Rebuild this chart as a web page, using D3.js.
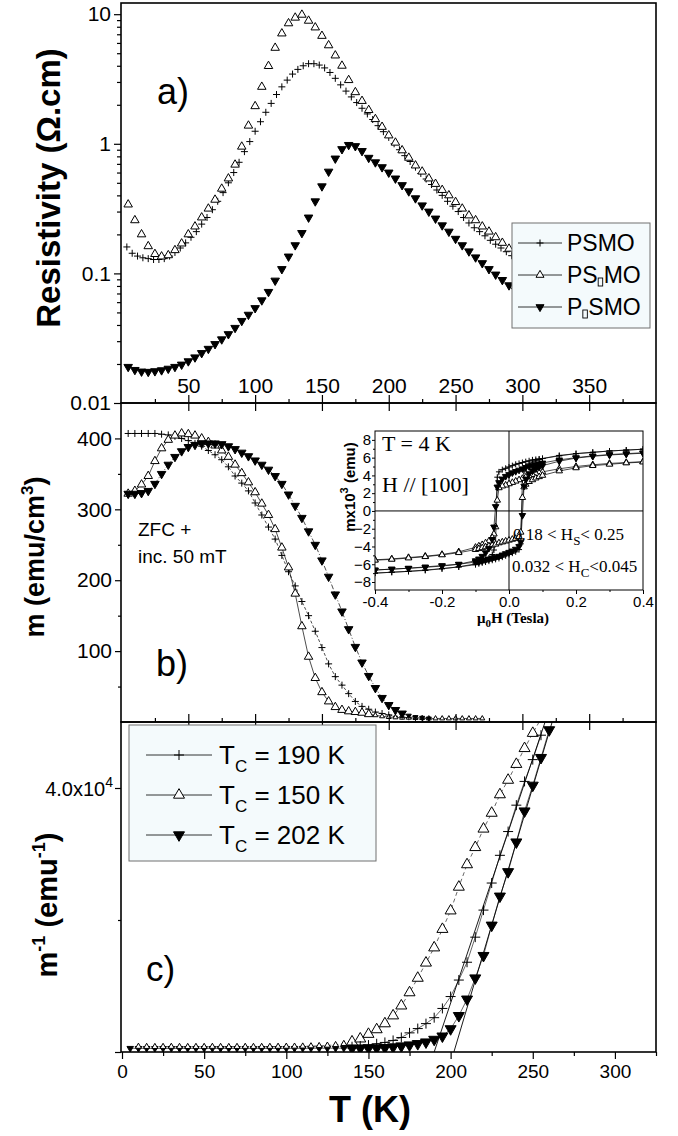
<!DOCTYPE html>
<html>
<head>
<meta charset="utf-8">
<script src="https://cdn.jsdelivr.net/npm/d3@7"></script>
<style>
  body { margin: 0; background: #fff; }
  svg { display: block; }
</style>
</head>
<body>
<script>
// ---- panel a : resistivity vs T ----
const tRhoTri = [5,10,15,20,25,30,35,40,45,50,55,60,65,70,75,80,85,90,95,100,105,110,115,120,125,130,135,140,145,150,155,160,165,170,175,180,185,190,195,200,205,210,215,220,225,230,235,240,245,250,255,260,265,270,275,280,285,290,295];
const rhoPSdMO = [0.34,0.257,0.20,0.162,0.141,0.135,0.138,0.151,0.17,0.20,0.23,0.27,0.316,0.37,0.45,0.54,0.69,0.95,1.38,1.95,2.75,3.98,5.5,7.1,8.5,9.4,9.9,8.9,7.9,6.8,5.75,4.8,4.0,3.1,2.5,2.14,1.82,1.55,1.35,1.16,1.02,0.89,0.78,0.68,0.61,0.54,0.49,0.44,0.40,0.355,0.316,0.28,0.257,0.23,0.21,0.19,0.172,0.155,0.14];
const tRhoPlus = [4,8,12,16,20,24,28,32,36,40,44,48,52,56,60,64,68,72,76,80,84,88,92,96,100,104,108,112,116,120,124,128,132,136,140,144,148,152,156,160,164,168,172,176,180,184,188,192,196,200,204,208,212,216,220,224,228,232,236,240,244,248,252,256,260,264,268,272,276,280,284,288,292,296];
const rhoPSMO = [0.16,0.143,0.136,0.132,0.13,0.128,0.128,0.13,0.136,0.145,0.157,0.172,0.19,0.21,0.24,0.27,0.31,0.36,0.42,0.50,0.60,0.72,0.87,1.04,1.25,1.48,1.75,2.05,2.4,2.75,3.1,3.45,3.75,4.0,4.15,4.15,4.05,3.85,3.55,3.2,2.85,2.55,2.3,2.08,1.88,1.7,1.54,1.38,1.24,1.12,1.0,0.9,0.81,0.73,0.66,0.59,0.535,0.485,0.44,0.40,0.36,0.33,0.30,0.27,0.245,0.225,0.21,0.195,0.18,0.168,0.157,0.147,0.137,0.128];
const tRhoDown = [5,10,15,20,25,30,35,40,45,50,55,60,65,70,75,80,85,90,95,100,105,110,115,120,125,130,135,140,145,150,155,160,165,170,175,180,185,190,195,200,205,210,215,220,225,230,235,240,245,250,255,260,265,270,275,280,285,290,295];
const rhoPdSMO = [0.019,0.018,0.0175,0.0174,0.0176,0.0179,0.0184,0.019,0.0198,0.021,0.0225,0.0243,0.0262,0.0285,0.031,0.034,0.038,0.043,0.048,0.054,0.062,0.072,0.088,0.108,0.135,0.165,0.205,0.27,0.36,0.47,0.61,0.77,0.91,0.98,0.96,0.88,0.78,0.72,0.66,0.60,0.54,0.48,0.43,0.38,0.335,0.30,0.265,0.235,0.21,0.185,0.165,0.148,0.133,0.12,0.108,0.098,0.089,0.081,0.074];

// ---- panel b : m vs T ----
const tMagPlus = [5,10,15,20,25,30,35,40,45,50,55,60,65,70,75,80,85,90,95,100,105,110,115,120,125,130,135,140,145,150,155,160,165,170,175,180,185,190,195,200,205,210,215,220];
const mPSMO = [407,407,407,407,407,406,405,403,400,397,393,389,383,377,370,360,347,337,326,309,292,275,258,235,212,192,170,150,128,105,82,64,52,40,29,22,18,14,12,10,8,7,6,5];
const tMagTri = [5,10,15,20,25,30,35,40,45,50,55,60,65,70,75,80,85,90,95,100,105,110,115,120,125,130,135,140,145,150,155,160,165,170,175,180,185,190,195,200,205,210,215,220,225,230,235,240,245,250,255,260,265,270];
const mPSdMO = [322,326,335,347,368,386,398,404,407,406,404,400,395,390,383,374,363,351,338,324,308,292,272,246,218,181,135,92,62,42,29,21,17,15,14,13,11,9.5,8,7,6.5,6,6,5.5,5.5,5,5,5,5,5,5,5,5,5];
const tMagDown = [5,10,15,20,25,30,35,40,45,50,55,60,65,70,75,80,85,90,95,100,105,110,115,120,125,130,135,140,145,150,155,160,165,170,175,180,185,190,195,200,205,210,215,220,225,230];
const mPdSMO = [322,322,323,326,336,350,363,374,382,388,391,393,393,393,392,389,385,380,375,369,363,356,347,336,321,305,288,269,250,228,205,180,156,131,106,84,65,48,34,24,17,12,9,7,6,5];

// ---- panel b inset : hysteresis at 4 K ----
const hDesc = [0.4,0.35,0.3,0.25,0.2,0.15,0.1,0.09,0.08,0.07,0.06,0.05,0.04,0.03,0.02,0.01,0,-0.01,-0.02,-0.03,-0.035,-0.04,-0.045,-0.05,-0.06,-0.07,-0.08,-0.09,-0.1,-0.15,-0.2,-0.25,-0.3,-0.35,-0.4];
const hAsc = [-0.4,-0.35,-0.3,-0.25,-0.2,-0.15,-0.1,-0.09,-0.08,-0.07,-0.06,-0.05,-0.04,-0.03,-0.02,-0.01,0,0.01,0.02,0.03,0.035,0.04,0.045,0.05,0.06,0.07,0.08,0.09,0.1,0.15,0.2,0.25,0.3,0.35,0.4];
const loopPSMODesc = [6.95,6.85,6.75,6.6,6.45,6.2,5.9,5.85,5.8,5.75,5.65,5.55,5.45,5.35,5.25,5.1,4.95,4.8,4.65,4.4,3.8,-3.6,-4.4,-4.9,-5.3,-5.5,-5.7,-5.8,-5.95,-6.3,-6.5,-6.65,-6.8,-6.9,-7.0];
const loopPSMOAsc = [-7.0,-6.9,-6.8,-6.7,-6.5,-6.3,-6.05,-5.95,-5.85,-5.75,-5.65,-5.55,-5.45,-5.35,-5.2,-5.05,-4.9,-4.75,-4.6,-4.35,-3.7,3.5,4.5,4.95,5.3,5.5,5.65,5.8,5.9,6.25,6.45,6.6,6.75,6.85,6.95];
const loopPSdMODesc = [5.55,5.45,5.35,5.2,5.0,4.75,4.4,4.3,4.2,4.1,3.95,3.8,3.65,3.5,3.35,3.2,3.05,2.9,2.8,2.6,1.2,-1.8,-2.6,-3.0,-3.4,-3.6,-3.8,-3.95,-4.1,-4.6,-4.9,-5.1,-5.25,-5.4,-5.5];
const loopPSdMOAsc = [-5.55,-5.45,-5.3,-5.15,-4.95,-4.7,-4.35,-4.25,-4.15,-4.05,-3.95,-3.85,-3.75,-3.6,-3.5,-3.4,-3.3,-3.2,-3.1,-2.9,-2.4,1.5,2.7,3.0,3.3,3.5,3.7,3.85,4.0,4.5,4.85,5.1,5.25,5.4,5.5];
const loopPdSMODesc = [6.55,6.45,6.35,6.2,6.0,5.75,5.4,5.3,5.2,5.1,5.0,4.9,4.75,4.6,4.45,4.3,4.1,3.9,3.6,3.2,2.7,0.5,-1.8,-3.2,-4.2,-4.7,-5.1,-5.4,-5.6,-6.0,-6.2,-6.35,-6.45,-6.55,-6.65];
const loopPdSMOAsc = [-6.65,-6.55,-6.45,-6.3,-6.15,-6.0,-5.75,-5.7,-5.6,-5.5,-5.4,-5.3,-5.2,-5.1,-4.95,-4.8,-4.65,-4.5,-4.3,-4.0,-3.5,-0.5,2.8,3.6,4.2,4.5,4.75,4.95,5.1,5.6,5.95,6.15,6.3,6.4,6.5];

// ---- panel c : 1/m vs T ----
const tInvTri = [10,15,20,25,30,35,40,45,50,55,60,65,70,75,80,85,90,95,100,105,110,115,120,125,130,135,140,145,150,155,160,165,170,175,180,185,190,195,200,205,210,215,220,225,230,235,240,245,250,255];
const invPSdMO = [820,800,790,800,810,800,790,800,800,810,800,790,800,810,800,800,810,820,830,840,860,890,930,990,1080,1250,1550,2000,2700,3400,4300,5500,7000,9000,11200,13500,15800,18600,21400,25000,28400,31000,33800,36200,39000,41200,43600,46000,48300,50500];
const tInvPlus = [140,145,150,155,160,165,170,175,180,185,190,195,200,205,210,215,220,225,230,235,240,245,250,255];
const invPSMO = [800,900,1050,1250,1450,1750,2200,2900,3550,4300,5200,6600,8400,10900,13600,17400,21500,25600,29800,33400,37400,41000,44300,48000];
const tInvDown = [5,10,15,20,25,30,35,40,45,50,55,60,65,70,75,80,85,90,95,100,105,110,115,120,125,130,135,140,145,150,155,160,165,170,175,180,185,190,195,200,205,210,215,220,225,230,235,240,245,250,255,260];
const invPdSMO = [560,550,550,540,550,550,540,550,550,540,550,550,540,550,550,540,550,550,550,550,550,550,560,560,560,570,570,580,590,600,600,650,750,900,1050,1250,1500,1900,2400,3500,5500,8000,11200,14600,19200,23600,27300,31800,36500,40400,44600,48800];
// linear Curie-Weiss fits
const fit190T = [190, 257.5], fit190V = [0, 50000];
const fit202T = [202, 261.8], fit202V = [0, 50000];

// ---- ticks / labels ----
const rhoMajor = [0.01, 0.1, 1, 10];
const rhoMinor = [0.02,0.03,0.04,0.05,0.06,0.07,0.08,0.09,0.2,0.3,0.4,0.5,0.6,0.7,0.8,0.9,2,3,4,5,6,7,8,9];
const tTopMajor = [50,100,150,200,250,300,350];
const tTopMinor = [25,75,125,175,225,275,325,375];
const mMajor = [100,200,300,400];
const mMinor = [50,150,250,350];
const invMajor = [0, 40000];
const invMinor = [20000];
const tBotMajor = [0,50,100,150,200,250,300];
const tBotMinor = [25,75,125,175,225,275,325];
const hTicks = [-0.4,-0.2,0,0.2,0.4];
const hMinor = [-0.3,-0.1,0.1,0.3];
const loopTicks = [-8,-6,-4,-2,0,2,4,6,8];
const loopMinor = [-7,-5,-3,-1,1,3,5,7];
const legendA = ['PSMO', 'PS|MO', 'P|SMO'];
const legendC = ['190', '150', '202'];

const FONT = "'Liberation Sans', Arial, sans-serif";
const SERIF = "'Liberation Serif', 'Times New Roman', serif";
const LEGBG = '#f4fafc';

const svg = d3.select('body').append('svg')
  .attr('width', 678).attr('height', 1136)
  .attr('font-family', FONT);
svg.append('rect').attr('width', 678).attr('height', 1136).attr('fill', '#fff');

const L = 121, R = 656;
const xAB = d3.scaleLinear().domain([0, 400]).range([121.5, R]);
const yA = d3.scaleLog().domain([0.01, 12.2]).range([403, 3]);
const yB = d3.scaleLinear().domain([0, 450]).range([722, 403]);
const xC = d3.scaleLinear().domain([0, 325]).range([122, R]);
const yC = d3.scaleLinear().domain([0, 50000]).range([1052, 722]);
const xI = d3.scaleLinear().domain([-0.4, 0.4]).range([375, 643]);
const yI = d3.scaleLinear().domain([-8.9, 9]).range([590, 431]);

const defs = svg.append('defs');
function clip(id, x, y, w, h) {
  defs.append('clipPath').attr('id', id)
    .append('rect').attr('x', x).attr('y', y).attr('width', w).attr('height', h);
}
clip('ca', L, 3, R - L, 400);
clip('cb', L, 403, R - L, 319);
clip('cc', L, 722, R - L, 330);
clip('ci', 375, 431, 268, 159);

// marker shapes
function sym(type, s) {
  if (type === 'plus') { const h = s / 2; return `M${-h},0H${h}M0,${-h}V${h}`; }
  const h = s * 0.866;
  if (type === 'up') return `M0,${-2*h/3}L${s/2},${h/3}L${-s/2},${h/3}Z`;
  return `M0,${2*h/3}L${s/2},${-h/3}L${-s/2},${-h/3}Z`;
}
function marks(g, xs, ys, x, y, type, size) {
  g.selectAll(null).data(xs.map((t, i) => [t, ys[i]])).join('path')
    .attr('transform', d => `translate(${x(d[0])},${y(d[1])})`)
    .attr('d', d => sym(type, typeof size === 'function' ? size(d) : size))
    .attr('fill', type === 'down' ? '#000' : (type === 'up' ? '#fff' : 'none'))
    .attr('stroke', '#000')
    .attr('stroke-width', 1);
}
function line(g, xs, ys, x, y, dash, w) {
  g.append('path').datum(xs.map((t, i) => [t, ys[i]]))
    .attr('d', d3.line().x(d => x(d[0])).y(d => y(d[1])))
    .attr('fill', 'none').attr('stroke', '#000')
    .attr('stroke-width', w || 0.7)
    .attr('stroke-dasharray', dash || null);
}
function axis(gen, tx, ty, size) {
  const g = svg.append('g').attr('transform', `translate(${tx},${ty})`).call(gen);
  g.select('.domain').remove();
  g.attr('font-family', FONT).attr('font-size', size || 21);
  g.selectAll('line').attr('stroke-width', 1.2);
  return g;
}

// ---------- panel a ----------
const ga = svg.append('g').attr('clip-path', 'url(#ca)');
marks(ga, tRhoPlus, rhoPSMO, xAB, yA, 'plus', 7);
marks(ga, tRhoTri, rhoPSdMO, xAB, yA, 'up', 8.5);
marks(ga, tRhoDown, rhoPdSMO, xAB, yA, 'down', 8.5);

const rhoFmt = d => ({0.01: '0.01', 0.1: '0.1', 1: '1', 10: '10'})[d];
axis(d3.axisLeft(yA).tickValues(rhoMajor).tickSize(7).tickPadding(3).tickFormat(rhoFmt), L, 0);
axis(d3.axisLeft(yA).tickValues(rhoMinor).tickSize(4).tickFormat(''), L, 0);
axis(d3.axisTop(xAB).tickValues(tTopMajor).tickSize(8).tickPadding(2).tickFormat(d3.format('d')), 0, 403);
axis(d3.axisTop(xAB).tickValues(tTopMinor).tickSize(4).tickFormat(''), 0, 403);
axis(d3.axisBottom(xAB).tickValues(tTopMajor).tickSize(8).tickFormat(''), 0, 403);

// ---------- panel b ----------
const gb = svg.append('g').attr('clip-path', 'url(#cb)');
const smallB = d => d[1] < 10 ? 5 : 8.5;
line(gb, tMagTri, mPSdMO, xAB, yB, null, 0.7);
line(gb, tMagPlus, mPSMO, xAB, yB, '3,2', 0.7);
line(gb, tMagDown, mPdSMO, xAB, yB, '5,2,1,2', 0.7);
marks(gb, tMagPlus, mPSMO, xAB, yB, 'plus', d => d[1] < 10 ? 5 : 7);
marks(gb, tMagTri, mPSdMO, xAB, yB, 'up', smallB);
marks(gb, tMagDown, mPdSMO, xAB, yB, 'down', smallB);

axis(d3.axisLeft(yB).tickValues(mMajor).tickSize(6).tickPadding(3).tickFormat(d3.format('d')), L, 0);
axis(d3.axisLeft(yB).tickValues(mMinor).tickSize(3).tickFormat(''), L, 0);
axis(d3.axisTop(xAB).tickValues(tTopMajor).tickSize(8).tickFormat(''), 0, 722);
axis(d3.axisTop(xAB).tickValues(tTopMinor).tickSize(4).tickFormat(''), 0, 722);
axis(d3.axisBottom(xAB).tickValues(tTopMajor).tickSize(8).tickFormat(''), 0, 722);

// ---------- panel c ----------
const gc = svg.append('g').attr('clip-path', 'url(#cc)');
line(gc, fit190T, fit190V, xC, yC, null, 0.9);
line(gc, fit202T, fit202V, xC, yC, null, 0.9);
line(gc, tInvTri, invPSdMO, xC, yC, '4,3', 0.6);
line(gc, tInvPlus, invPSMO, xC, yC, null, 0.6);
line(gc, tInvDown, invPdSMO, xC, yC, null, 0.6);
const smallC = d => d[0] < 140 ? 6 : 11;
marks(gc, tInvDown, invPdSMO, xC, yC, 'down', d => d[0] < 140 ? 6.5 : 11);
marks(gc, tInvTri, invPSdMO, xC, yC, 'up', smallC);
marks(gc, tInvPlus, invPSMO, xC, yC, 'plus', 10);

axis(d3.axisLeft(yC).tickValues(invMajor).tickSize(6).tickFormat(''), L, 0);
axis(d3.axisLeft(yC).tickValues(invMinor).tickSize(3).tickFormat(''), L, 0);
axis(d3.axisBottom(xC).tickValues(tBotMajor).tickSize(7).tickPadding(6).tickFormat(d3.format('d')), 0, 1052, 19);
axis(d3.axisBottom(xC).tickValues(tBotMinor).tickSize(4).tickFormat(''), 0, 1052);
const lab4 = svg.append('text').attr('x', 113).attr('y', 796)
  .attr('text-anchor', 'end').attr('font-size', 20);
lab4.append('tspan').text('4.0x10');
lab4.append('tspan').attr('dy', -9).attr('font-size', 14).text('4');

// ---------- frames ----------
[[3, 400], [403, 319], [722, 330]].forEach(([y, h]) => {
  svg.append('rect').attr('x', L).attr('y', y).attr('width', R - L).attr('height', h)
    .attr('fill', 'none').attr('stroke', '#000').attr('stroke-width', 1.6);
});

// ---------- inset ----------
const gi = svg.append('g');
gi.append('rect').attr('x', 375).attr('y', 431).attr('width', 268).attr('height', 159).attr('fill', '#fff');
const gic = gi.append('g').attr('clip-path', 'url(#ci)');
gic.append('line').attr('x1', xI(0)).attr('x2', xI(0)).attr('y1', 431).attr('y2', 590).attr('stroke', '#000').attr('stroke-width', 1);
gic.append('line').attr('x1', 375).attr('x2', 643).attr('y1', yI(0)).attr('y2', yI(0)).attr('stroke', '#000').attr('stroke-width', 1);
const loops = [[loopPSMODesc, loopPSMOAsc, 'plus', 6], [loopPSdMODesc, loopPSdMOAsc, 'up', 6.5], [loopPdSMODesc, loopPdSMOAsc, 'down', 6.5]];
loops.forEach(([dn, up]) => {
  line(gic, hDesc, dn, xI, yI, null, 0.7);
  line(gic, hAsc, up, xI, yI, null, 0.7);
});
loops.forEach(([dn, up, type, s]) => {
  marks(gic, hDesc, dn, xI, yI, type, s);
  marks(gic, hAsc, up, xI, yI, type, s);
});
gi.append('rect').attr('x', 375).attr('y', 431).attr('width', 268).attr('height', 159)
  .attr('fill', 'none').attr('stroke', '#000').attr('stroke-width', 1);
const ia1 = axis(d3.axisLeft(yI).tickValues(loopTicks).tickSize(3).tickPadding(1).tickFormat(d3.format('d')), 375, 0, 15);
const ia2 = axis(d3.axisLeft(yI).tickValues(loopMinor).tickSize(2).tickFormat(''), 375, 0, 15);
const ia3 = axis(d3.axisBottom(xI).tickValues(hTicks).tickSize(4).tickPadding(2).tickFormat(d => d.toFixed(1)), 0, 590, 15);
const ia4 = axis(d3.axisBottom(xI).tickValues(hMinor).tickSize(2).tickFormat(''), 0, 590, 15);
[ia1, ia2, ia3, ia4].forEach(g => g.selectAll('line').attr('stroke-width', 1));

svg.append('text').attr('x', 382).attr('y', 451).attr('font-family', SERIF).attr('font-size', 22).text('T = 4 K');
svg.append('text').attr('x', 382).attr('y', 492).attr('font-family', SERIF).attr('font-size', 22).text('H // [100]');
const hs = svg.append('text').attr('x', 513).attr('y', 540).attr('font-family', SERIF).attr('font-size', 17);
hs.append('tspan').text('0.18 < H');
hs.append('tspan').attr('dy', 5).attr('font-size', 13).text('S');
hs.append('tspan').attr('dy', -5).text('< 0.25');
const hc = svg.append('text').attr('x', 512).attr('y', 572).attr('font-family', SERIF).attr('font-size', 17);
hc.append('tspan').text('0.032 < H');
hc.append('tspan').attr('dy', 5).attr('font-size', 13).text('C');
hc.append('tspan').attr('dy', -5).text('<0.045');
const ix = svg.append('text').attr('x', 513).attr('y', 623).attr('text-anchor', 'middle')
  .attr('font-family', SERIF).attr('font-size', 15).attr('font-weight', 'bold');
ix.append('tspan').text('\u03bc');
ix.append('tspan').attr('dy', 4).attr('font-size', 11).text('0');
ix.append('tspan').attr('dy', -4).text('H (Tesla)');
const iy = svg.append('text').attr('transform', 'translate(355,487) rotate(-90)').attr('text-anchor', 'middle')
  .attr('font-size', 15).attr('font-weight', 'bold');
iy.append('tspan').text('mx10');
iy.append('tspan').attr('dy', -7).attr('font-size', 11).text('3');
iy.append('tspan').attr('dy', 7).text(' (emu)');

// ---------- legends ----------
const la = svg.append('g');
la.append('rect').attr('x', 512).attr('y', 223).attr('width', 138).attr('height', 105)
  .attr('fill', LEGBG).attr('stroke', '#707070').attr('stroke-width', 1);
const aTypes = ['plus', 'up', 'down'];
legendA.forEach((name, i) => {
  const y = 243 + i * 32;
  la.append('line').attr('x1', 518).attr('x2', 562).attr('y1', y).attr('y2', y).attr('stroke', '#000').attr('stroke-width', 0.8);
  marks(la, [540], [y], d => d, d => d, aTypes[i], aTypes[i] === 'plus' ? 7 : 8);
  // the subscript glyph was missing in the original font: drawn as an empty box
  const parts = name.split('|');
  const t1 = la.append('text').attr('x', 567).attr('y', y + 8).attr('font-size', 23).text(parts[0]);
  if (parts.length > 1) {
    const w1 = t1.node().getComputedTextLength();
    la.append('rect').attr('x', 567 + w1 + 0.5).attr('y', y + 3).attr('width', 4.5).attr('height', 8)
      .attr('fill', 'none').attr('stroke', '#000').attr('stroke-width', 0.9);
    la.append('text').attr('x', 567 + w1 + 6).attr('y', y + 8).attr('font-size', 23).text(parts[1]);
  }
});

const lc = svg.append('g');
lc.append('rect').attr('x', 129).attr('y', 725).attr('width', 247).attr('height', 136)
  .attr('fill', LEGBG).attr('stroke', '#707070').attr('stroke-width', 1);
legendC.forEach((tc, i) => {
  const y = 755 + i * 40;
  lc.append('line').attr('x1', 146).attr('x2', 212).attr('y1', y).attr('y2', y).attr('stroke', '#000').attr('stroke-width', 0.8);
  marks(lc, [179], [y], d => d, d => d, aTypes[i], aTypes[i] === 'plus' ? 10 : 11);
  const t = lc.append('text').attr('x', 219).attr('y', y + 9).attr('font-size', 26);
  t.append('tspan').text('T');
  t.append('tspan').attr('dy', 8).attr('font-size', 17).text('C');
  t.append('tspan').attr('dy', -8).text(` = ${tc} K`);
});

// ---------- axis titles and panel tags ----------
svg.append('text').attr('transform', 'translate(60,188) rotate(-90)').attr('text-anchor', 'middle')
  .attr('font-size', 33).attr('font-weight', 'bold').text('Resistivity (\u03a9.cm)');
const mb = svg.append('text').attr('transform', 'translate(44,557) rotate(-90)').attr('text-anchor', 'middle')
  .attr('font-size', 27).attr('font-weight', 'bold');
mb.append('tspan').text('m (emu/cm');
mb.append('tspan').attr('dy', -11).attr('font-size', 17).text('3');
mb.append('tspan').attr('dy', 11).text(')');
const mc = svg.append('text').attr('transform', 'translate(57,905) rotate(-90)').attr('text-anchor', 'middle')
  .attr('font-size', 29).attr('font-weight', 'bold');
mc.append('tspan').text('m');
mc.append('tspan').attr('dy', -12).attr('font-size', 18).text('-1');
mc.append('tspan').attr('dy', 12).text(' (emu');
mc.append('tspan').attr('dy', -12).attr('font-size', 18).text('-1');
mc.append('tspan').attr('dy', 12).text(')');
svg.append('text').attr('x', 370).attr('y', 1122).attr('text-anchor', 'middle')
  .attr('font-size', 36).attr('font-weight', 'bold').text('T (K)');

svg.append('text').attr('x', 157).attr('y', 104).attr('font-size', 36).text('a)');
svg.append('text').attr('x', 156).attr('y', 676).attr('font-size', 36).text('b)');
svg.append('text').attr('x', 146).attr('y', 981).attr('font-size', 35).text('c)');
svg.append('text').attr('x', 138).attr('y', 536).attr('font-size', 19).text('ZFC +');
svg.append('text').attr('x', 138).attr('y', 563).attr('font-size', 19).text('inc. 50 mT');
</script>
</body>
</html>
